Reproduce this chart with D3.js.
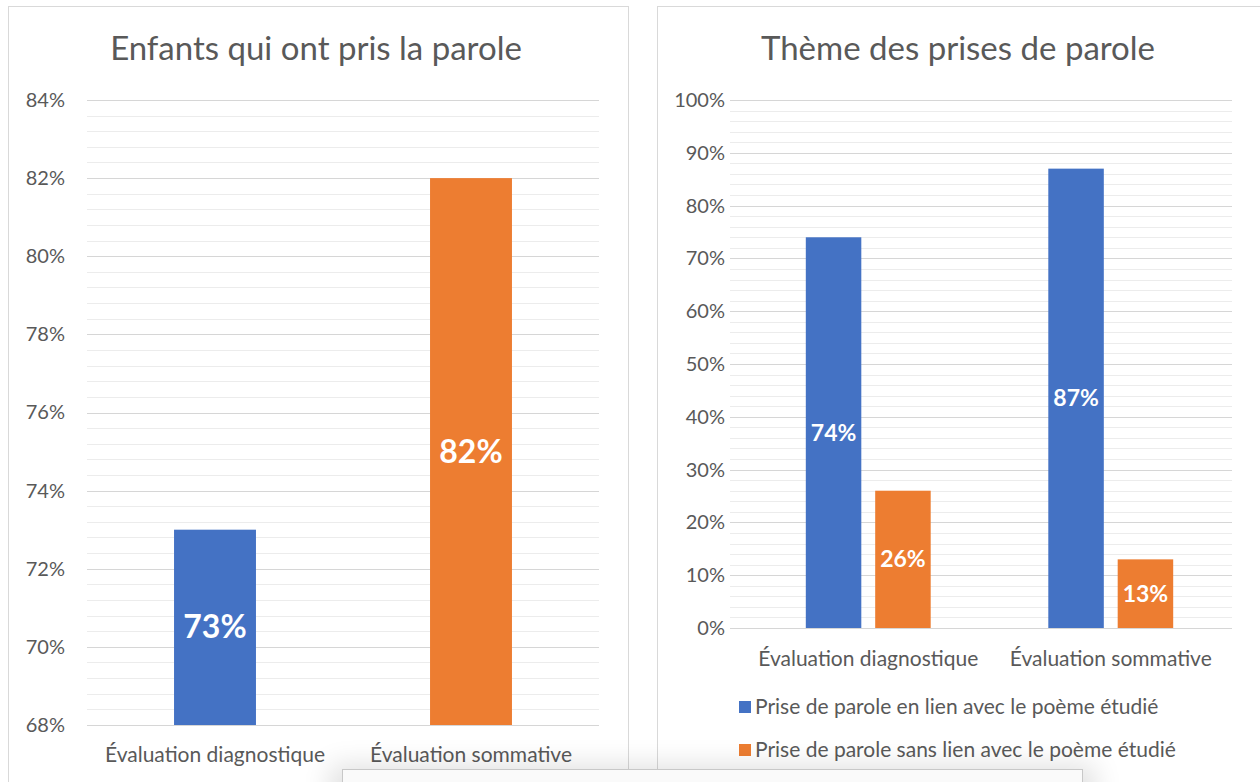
<!DOCTYPE html>
<meta charset="utf-8">
<style>
body { margin: 0; background: #fff; }
text { font-family: Lato, "Open Sans", sans-serif; }
</style>
<body>
<script src="https://d3js.org/d3.v7.min.js"></script>
<script>
// left chart: share of children who spoke
var leftCats = ["Évaluation diagnostique", "Évaluation sommative"];
var leftValues = [0.73, 0.82];
var leftTicks = [0.68, 0.70, 0.72, 0.74, 0.76, 0.78, 0.80, 0.82, 0.84];

// right chart: topic of the interventions
var rightCats = ["Évaluation diagnostique", "Évaluation sommative"];
var rightSeries = ["Prise de parole en lien avec le poème étudié",
                   "Prise de parole sans lien avec le poème étudié"];
var rightLien = [0.74, 0.87];
var rightSansLien = [0.26, 0.13];
var rightTicks = [0, 0.1, 0.2, 0.3, 0.4, 0.5, 0.6, 0.7, 0.8, 0.9, 1.0];

var blue = "#4472C4", orange = "#ED7D31", grey = "#595959";

var width = 1260, height = 782;
var svg = d3.select("body").append("svg")
    .attr("width", width)
    .attr("height", height);

var defs = svg.append("defs");
var f = defs.append("filter").attr("id", "shadow")
    .attr("x", "-10%").attr("y", "-200%").attr("width", "120%").attr("height", "500%");
f.append("feGaussianBlur").attr("stdDeviation", 14);

// panel frames
svg.append("rect").attr("x", 8.5).attr("y", 6.5).attr("width", 620).attr("height", 800)
    .attr("fill", "#fff").attr("stroke", "#d9d9d9");
svg.append("rect").attr("x", 657.5).attr("y", 6.5).attr("width", 620).attr("height", 800)
    .attr("fill", "#fff").attr("stroke", "#d9d9d9");

function pct(d) { return Math.round(d * 100) + "%"; }

function grid(g, y, x0, x1, minor, major) {
  g.append("g").selectAll("line").data(minor).join("line")
      .attr("x1", x0).attr("x2", x1)
      .attr("y1", d => Math.round(y(d)) + 0.5).attr("y2", d => Math.round(y(d)) + 0.5)
      .attr("stroke", "#ececec");
  g.append("g").selectAll("line").data(major).join("line")
      .attr("x1", x0).attr("x2", x1)
      .attr("y1", d => Math.round(y(d)) + 0.5).attr("y2", d => Math.round(y(d)) + 0.5)
      .attr("stroke", "#d6d6d6");
}

function yAxis(g, y, ticks, xPos) {
  var ax = g.append("g").attr("transform", "translate(" + xPos + ",0)")
      .call(d3.axisLeft(y).tickValues(ticks).tickSize(0).tickPadding(0).tickFormat(pct));
  ax.select(".domain").remove();
  ax.selectAll("text").attr("fill", grey).style("font-size", "20px")
      .style("font-family", "Lato, sans-serif");
}

// ---------- left chart ----------
var L = svg.append("g");
var yL = d3.scaleLinear().domain([0.68, 0.84]).range([725, 100]);
var xL = d3.scaleBand().domain(leftCats).range([87, 599]).padding(0);

var minorL = d3.range(0, 41).map(i => 0.68 + i * 0.004);
grid(L, yL, 87, 599, minorL, leftTicks);
yAxis(L, yL, leftTicks, 65);

L.append("text").attr("x", 316).attr("y", 60).attr("text-anchor", "middle")
    .attr("fill", grey).style("font-size", "33px").text("Enfants qui ont pris la parole");

var bwL = xL.bandwidth() * 0.32;
L.selectAll(".bar").data(leftValues).join("rect")
    .attr("x", (d, i) => xL(leftCats[i]) + xL.bandwidth() / 2 - bwL / 2)
    .attr("y", d => yL(d))
    .attr("width", bwL)
    .attr("height", d => yL(0.68) - yL(d))
    .attr("fill", (d, i) => i === 0 ? blue : orange);

L.selectAll(".lab").data(leftValues).join("text")
    .attr("x", (d, i) => xL(leftCats[i]) + xL.bandwidth() / 2)
    .attr("y", d => (yL(d) + yL(0.68)) / 2 + 11)
    .attr("text-anchor", "middle").attr("fill", "#fff")
    .style("font-size", "32px").style("font-weight", "bold")
    .text(pct);

L.selectAll(".cat").data(leftCats).join("text")
    .attr("x", d => xL(d) + xL.bandwidth() / 2)
    .attr("y", 762).attr("text-anchor", "middle")
    .attr("fill", grey).style("font-size", "21px").text(d => d);

// ---------- right chart ----------
var R = svg.append("g");
var yR = d3.scaleLinear().domain([0, 1]).range([628, 100]);
var xR = d3.scaleBand().domain(rightCats).range([747, 1232]).padding(0);
var xR1 = d3.scaleBand().domain(rightSeries)
    .range([0, xR.bandwidth() * 0.515]).paddingInner(0.2);

var minorR = d3.range(0, 51).map(i => i * 0.02);
grid(R, yR, 730, 1232, minorR, rightTicks);
yAxis(R, yR, rightTicks, 725);

R.append("text").attr("x", 958).attr("y", 60).attr("text-anchor", "middle")
    .attr("fill", grey).style("font-size", "33px").text("Thème des prises de parole");

var groups = rightCats.map((c, i) => ({cat: c, vals: [rightLien[i], rightSansLien[i]]}));
var off = (xR.bandwidth() - xR.bandwidth() * 0.515) / 2;
var gsel = R.selectAll(".grp").data(groups).join("g")
    .attr("transform", d => "translate(" + (xR(d.cat) + off) + ",0)");
gsel.selectAll("rect").data(d => d.vals).join("rect")
    .attr("x", (d, i) => xR1(rightSeries[i]))
    .attr("y", d => yR(d))
    .attr("width", xR1.bandwidth())
    .attr("height", d => yR(0) - yR(d))
    .attr("fill", (d, i) => i === 0 ? blue : orange);
gsel.selectAll("text").data(d => d.vals).join("text")
    .attr("x", (d, i) => xR1(rightSeries[i]) + xR1.bandwidth() / 2)
    .attr("y", d => (yR(d) + yR(0)) / 2 + 8)
    .attr("text-anchor", "middle").attr("fill", "#fff")
    .style("font-size", "23px").style("font-weight", "bold")
    .text(pct);

R.selectAll(".cat").data(rightCats).join("text")
    .attr("x", d => xR(d) + xR.bandwidth() / 2)
    .attr("y", 666).attr("text-anchor", "middle")
    .attr("fill", grey).style("font-size", "21px").text(d => d);

var leg = R.selectAll(".leg").data(rightSeries).join("g")
    .attr("transform", (d, i) => "translate(739," + (707 + i * 43) + ")");
leg.append("rect").attr("x", 0).attr("y", -6).attr("width", 12).attr("height", 12)
    .attr("fill", (d, i) => i === 0 ? blue : orange);
leg.append("text").attr("x", 16).attr("y", 7).attr("fill", grey)
    .style("font-size", "21px").text(d => d);

// overlay box cut off at the bottom of the screenshot
svg.append("rect").attr("x", 330).attr("y", 765).attr("width", 765).attr("height", 60)
    .attr("fill", "#000").attr("opacity", 0.12).attr("filter", "url(#shadow)");
svg.append("rect").attr("x", 342.5).attr("y", 769.5).attr("width", 740).attr("height", 40)
    .attr("fill", "#fafafa").attr("stroke", "#c8c8c8");
</script>
</body>
